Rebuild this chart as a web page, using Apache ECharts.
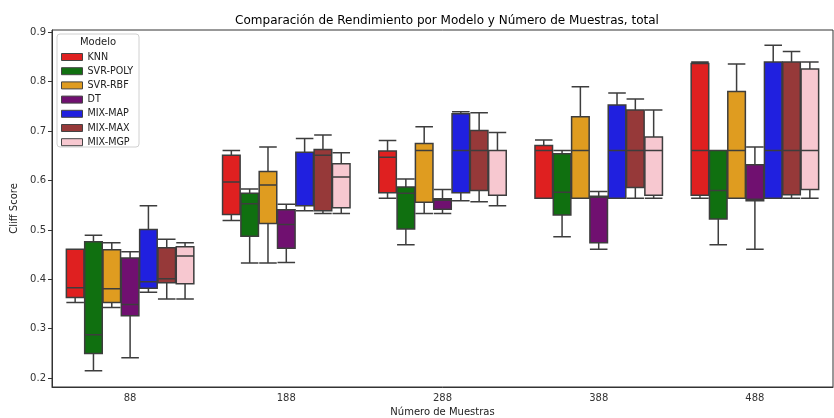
<!DOCTYPE html>
<html>
<head>
<meta charset="utf-8">
<script src="https://cdn.jsdelivr.net/npm/echarts@6/dist/echarts.min.js"></script>
<style>html,body{margin:0;padding:0;background:#fff}#c{width:834px;height:418px}</style>
</head>
<body>
<div id="c"></div>
<script>
// Categories (Número de Muestras)
const categories = ['88', '188', '288', '388', '488'];
const models = ['KNN', 'SVR-POLY', 'SVR-RBF', 'DT', 'MIX-MAP', 'MIX-MAX', 'MIX-MGP'];
const colors = ['#df2020', '#107010', '#df9c20', '#701070', '#2020df', '#963939', '#f7c8d0'];
const yTicks = [0.2, 0.3, 0.4, 0.5, 0.6, 0.7, 0.8, 0.9];

// [lower whisker, Q1, median, Q3, upper whisker] per category
const KNN = [
  [0.353, 0.363, 0.383, 0.461, 0.461],
  [0.519, 0.531, 0.597, 0.651, 0.661],
  [0.564, 0.575, 0.647, 0.660, 0.681],
  [0.564, 0.564, 0.661, 0.671, 0.682],
  [0.564, 0.570, 0.661, 0.837, 0.840]
];
const SVR_POLY = [
  [0.215, 0.250, 0.288, 0.476, 0.489],
  [0.433, 0.487, 0.553, 0.574, 0.583],
  [0.470, 0.502, 0.574, 0.587, 0.603],
  [0.486, 0.530, 0.576, 0.654, 0.661],
  [0.470, 0.522, 0.580, 0.661, 0.661]
];
const SVR_RBF = [
  [0.343, 0.353, 0.381, 0.460, 0.474],
  [0.433, 0.513, 0.591, 0.618, 0.668],
  [0.533, 0.556, 0.661, 0.675, 0.709],
  [0.564, 0.564, 0.661, 0.729, 0.790],
  [0.564, 0.564, 0.661, 0.780, 0.836]
];
const DT = [
  [0.241, 0.326, 0.349, 0.443, 0.456],
  [0.434, 0.463, 0.511, 0.541, 0.552],
  [0.533, 0.542, 0.560, 0.563, 0.582],
  [0.461, 0.474, 0.566, 0.568, 0.578],
  [0.461, 0.559, 0.562, 0.632, 0.668]
];
const MIX_MAP = [
  [0.374, 0.382, 0.395, 0.501, 0.549],
  [0.539, 0.549, 0.657, 0.657, 0.685],
  [0.559, 0.575, 0.661, 0.735, 0.739],
  [0.564, 0.564, 0.661, 0.753, 0.777],
  [0.564, 0.564, 0.661, 0.840, 0.874]
];
const MIX_MAX = [
  [0.360, 0.393, 0.401, 0.464, 0.481],
  [0.533, 0.539, 0.651, 0.663, 0.692],
  [0.557, 0.580, 0.661, 0.701, 0.737],
  [0.564, 0.586, 0.661, 0.743, 0.765],
  [0.564, 0.571, 0.661, 0.840, 0.861]
];
const MIX_MGP = [
  [0.360, 0.391, 0.447, 0.466, 0.474],
  [0.533, 0.545, 0.607, 0.634, 0.656],
  [0.549, 0.570, 0.661, 0.661, 0.697],
  [0.564, 0.570, 0.661, 0.688, 0.743],
  [0.564, 0.582, 0.661, 0.826, 0.840]
];
const seriesData = [KNN, SVR_POLY, SVR_RBF, DT, MIX_MAP, MIX_MAX, MIX_MGP];

const FONT = 'DejaVu Sans';
const chart = echarts.init(document.getElementById('c'), null, {renderer: 'canvas'});

const gridLeft = 52, gridRight = 1;
const plotW = 834 - gridLeft - gridRight;
const bandW = plotW / categories.length;
const boxW = (bandW * 0.8 - 2) / models.length;

const series = models.map((m, i) => ({
  name: m,
  type: 'boxplot',
  data: seriesData[i],
  boxWidth: [boxW, boxW],
  itemStyle: { color: colors[i], borderColor: '#3d3d3d', borderWidth: 1.5 },
  emphasis: { disabled: true },
  z: 2
}));

chart.setOption({
  animation: false,
  backgroundColor: '#fff',
  title: {
    text: 'Comparación de Rendimiento por Modelo y Número de Muestras, total',
    left: 442, top: 10, textAlign: 'center',
    textStyle: { fontFamily: FONT, fontSize: 12, fontWeight: 'normal', color: '#000' }
  },
  grid: { left: gridLeft, right: gridRight, top: 30, bottom: 31, outerBoundsMode: 'none', containLabel: false, show: true, borderColor: '#333', borderWidth: 1, backgroundColor: 'transparent' },
  legend: {
    data: models.map((m, i) => ({ name: m, itemStyle: { color: colors[i], borderColor: '#444', borderWidth: 1 } })),
    orient: 'vertical', left: 56, top: 47,
    itemWidth: 21, itemHeight: 7, itemGap: 4.2,
    icon: 'rect',
    z: 20,
    textStyle: { fontFamily: FONT, fontSize: 9.6, color: '#222' },
    selectedMode: false
  },
  graphic: [
    { type: 'rect', z: 1, shape: { x: 57, y: 34, width: 82, height: 113, r: 3 }, style: { fill: 'rgba(255,255,255,0.8)', stroke: '#d0d0d0', lineWidth: 1 } },
    { type: 'text', z: 21, x: 98, y: 42, style: { text: 'Modelo', font: '10px "DejaVu Sans"', fill: '#222', textAlign: 'center', textVerticalAlign: 'middle' } }
  ],
  xAxis: {
    type: 'category', data: categories,
    name: 'Número de Muestras', nameLocation: 'middle', nameGap: 20,
    nameTextStyle: { fontFamily: FONT, fontSize: 10, color: '#222' },
    axisLine: { lineStyle: { color: '#333' } },
    axisTick: { alignWithLabel: true, length: 4, lineStyle: { color: '#333' } },
    axisLabel: { fontFamily: FONT, fontSize: 10, color: '#333', margin: 6 },
    splitLine: { show: false }
  },
  yAxis: {
    type: 'value', min: 0.182, max: 0.9047,
    name: 'Cliff Score', nameLocation: 'middle', nameGap: 23, nameRotate: 90,
    nameTextStyle: { fontFamily: FONT, fontSize: 10, color: '#222' },
    axisLine: { show: true, lineStyle: { color: '#333' } },
    axisTick: { show: true, length: 4, customValues: yTicks, lineStyle: { color: '#333' } },
    axisLabel: { fontFamily: FONT, fontSize: 10, color: '#333', margin: 6, customValues: yTicks, formatter: v => v.toFixed(1) },
    splitLine: { show: false }
  },
  series: series
});
</script>
</body>
</html>
